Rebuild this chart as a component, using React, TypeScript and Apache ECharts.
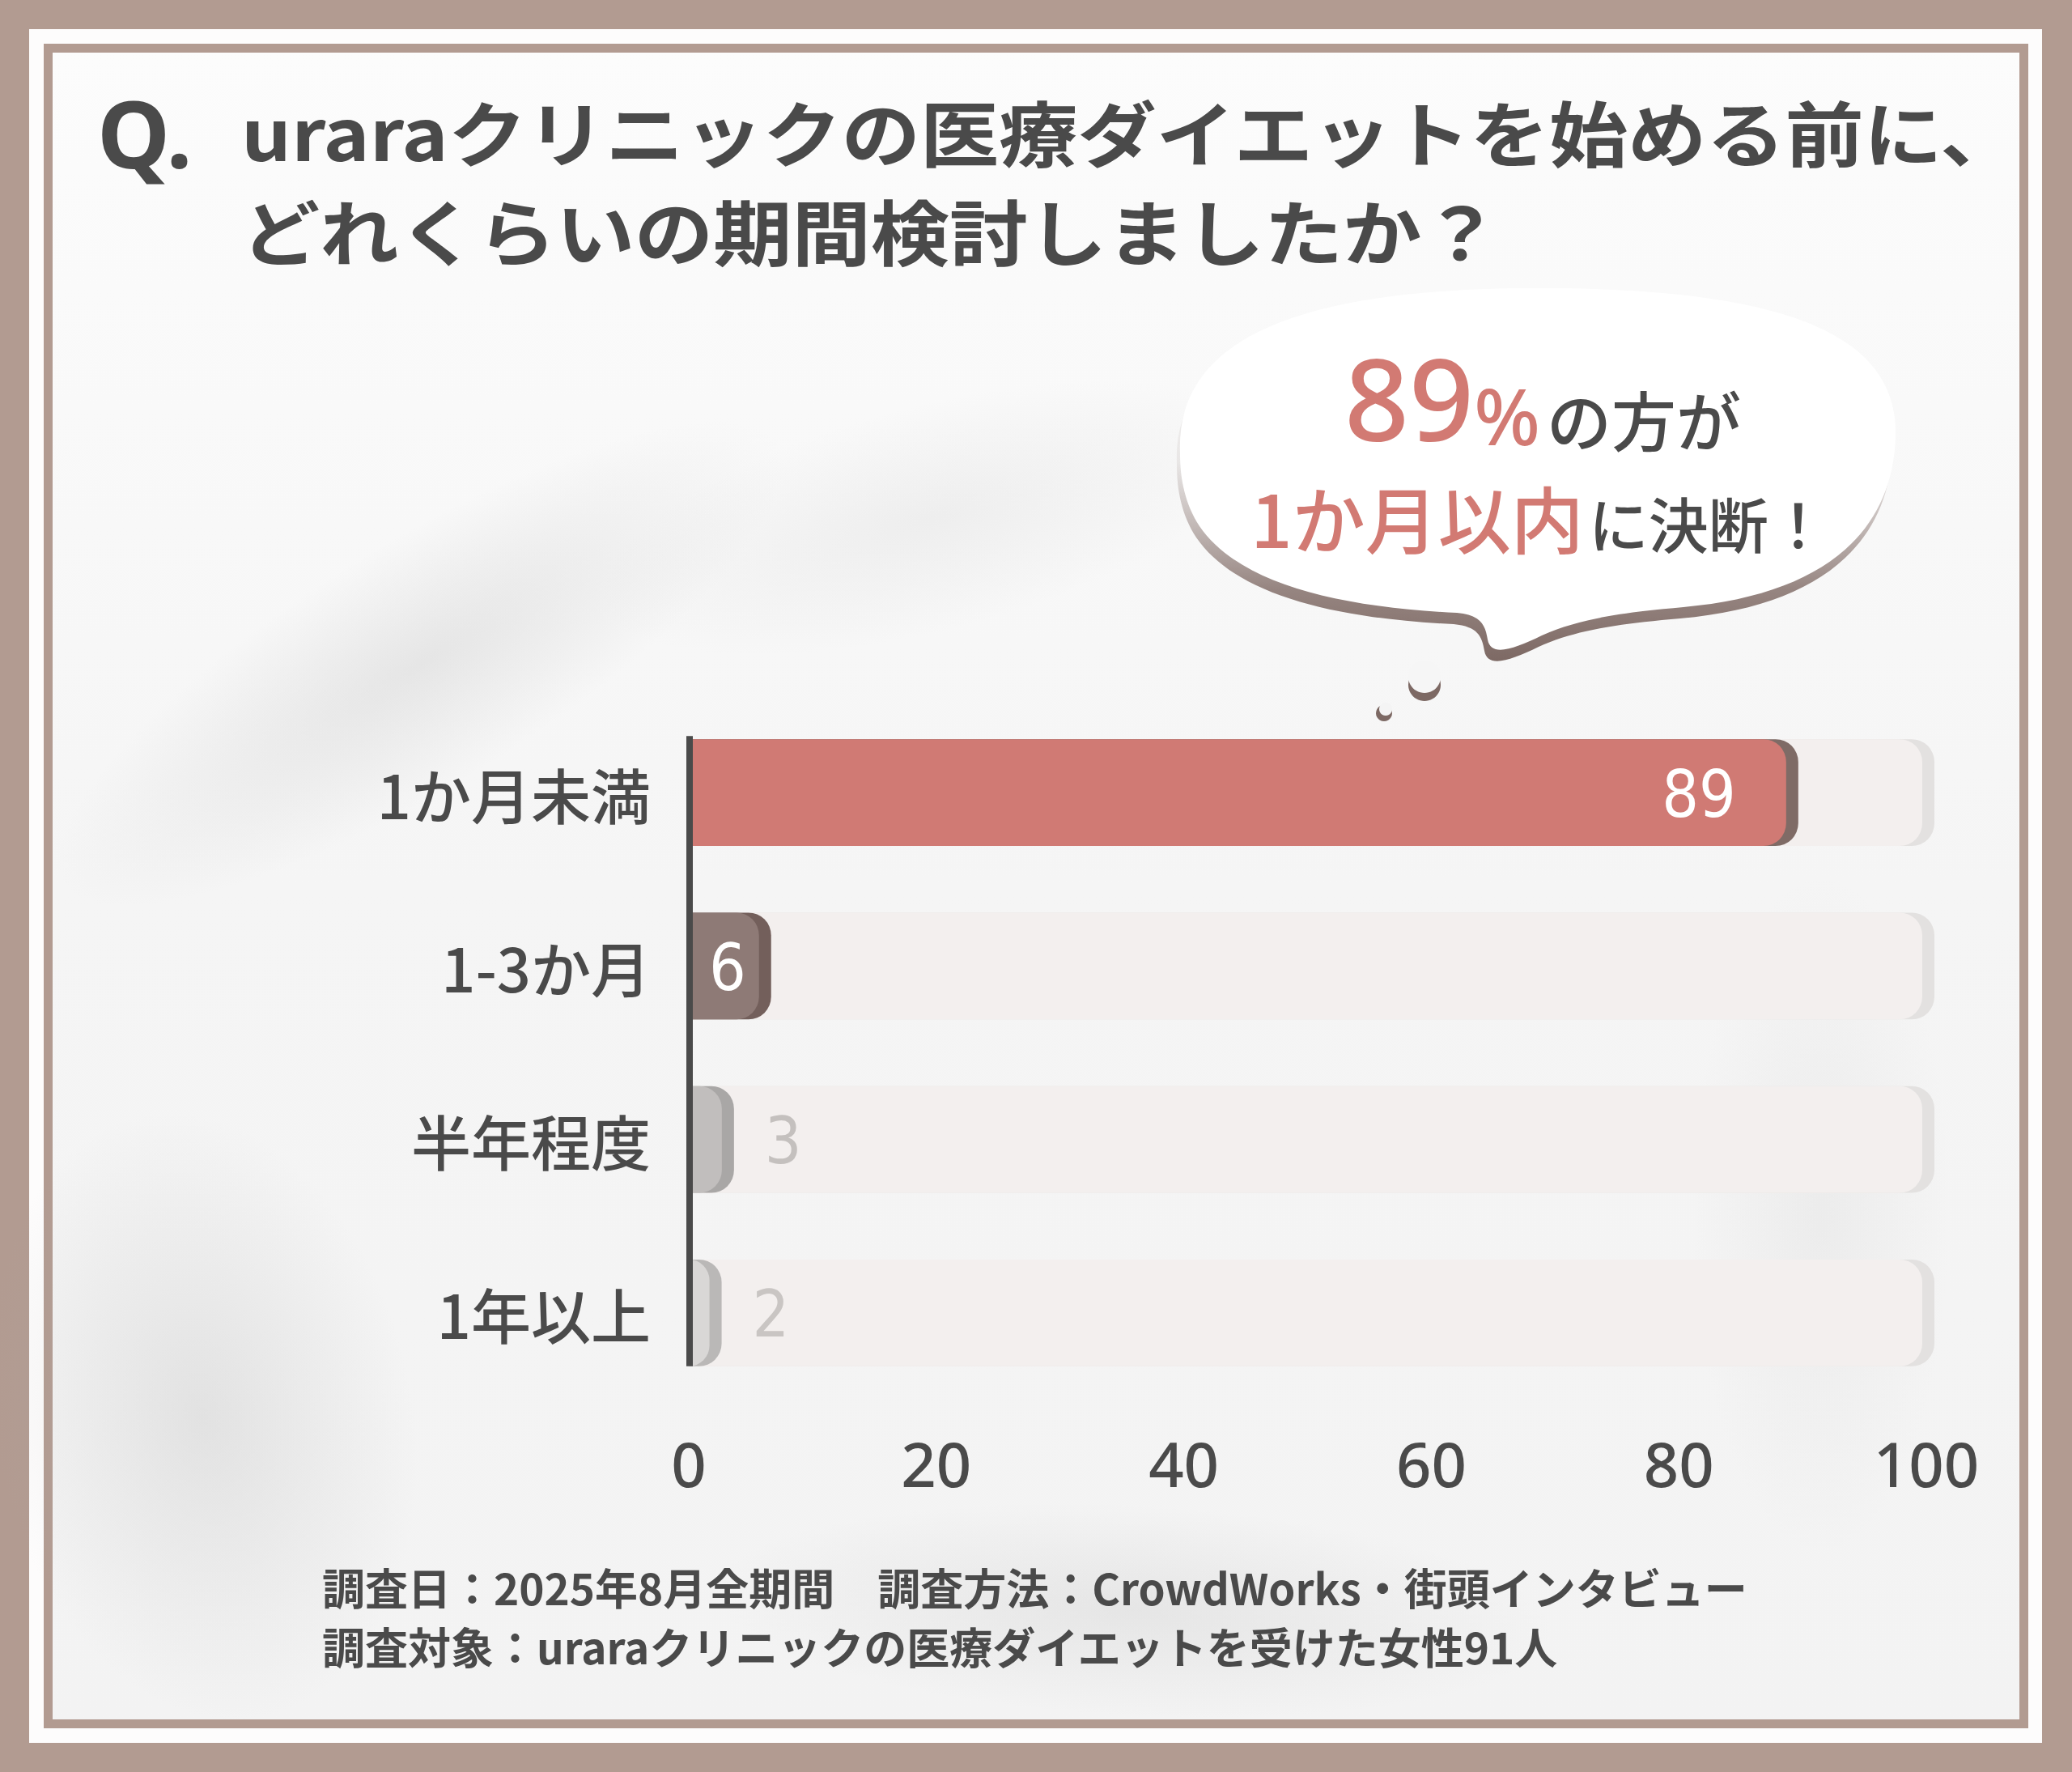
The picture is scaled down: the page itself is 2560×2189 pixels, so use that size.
import React, { useEffect, useRef } from "react";
import * as echarts from "echarts";

// chart values
const categories = ["1か月未満", "1-3か月", "半年程度", "1年以上"];
const shares = [89, 6, 3, 2];
const axisMax = 100;
const axisStep = 20;

// texts
const questionMark = "Q.";
const titleLines = [
  "uraraクリニックの医療ダイエットを始める前に、",
  "どれくらいの期間検討しましたか？",
];
const noteLines = [
  "調査日：2025年8月全期間　調査方法：CrowdWorks・街頭インタビュー",
  "調査対象：uraraクリニックの医療ダイエットを受けた女性91人",
];

// bar styles (per category)
const frontColors = ["#d07a74", "#8e7a76", "#c1bebd", "#d9d7d6"];
const capColors = ["#7f6b66", "#735f5b", "#a9a7a6", "#bab8b7"];
const labelColors = ["#ffffff", "#ffffff", "#c4c0be", "#c9c5c3"];
const labelModes = ["insideRight", "insideLeft", "right", "right"];

const DARK = "#4a4a4a";
const RED = "#d27a73";
const FRAME = "#b29b91";
const CJK = '"Noto Sans CJK JP", "Noto Sans", sans-serif';
const LATIN = '"Noto Sans", "Noto Sans CJK JP", sans-serif';
const NARROW = '"Liberation Sans Narrow", "DejaVu Sans Condensed", "Noto Sans", sans-serif';

const barRatio = 0.616;

const bubblePath =
  "M1458 560 C1452 420 1600 356 1900 356 C2200 356 2346 410 2342 540 C2338 660 2250 735 2080 750 C2000 757 1950 765 1905 785 C1870 802 1842 812 1838 790 C1835 772 1830 760 1800 757 C1650 750 1530 720 1482 650 C1464 622 1458 592 1458 560 Z";

const roundBar = (api: any, idx: number, val: number, front: string, cap: string) => {
  const base = api.coord([0, idx]);
  const end = api.coord([val, idx]);
  const h = api.size([0, 1])[1] * barRatio;
  const top = base[1] - h / 2;
  const capW = Math.max(end[0] - base[0] + 10, 4);
  const frontW = Math.max(end[0] - base[0] - 5, 2);
  return {
    base,
    end,
    frontEnd: base[0] + frontW,
    children: [
      {
        type: "rect",
        shape: { x: base[0], y: top, width: capW, height: h, r: [0, 28, 28, 0] },
        style: { fill: cap },
      },
      {
        type: "rect",
        shape: { x: base[0], y: top, width: frontW, height: h, r: [0, 28, 28, 0] },
        style: { fill: front },
      },
    ],
  };
};

const smudge = (x: number, y: number, rx: number, ry: number, rotation: number, alpha: number) => ({
  type: "ellipse",
  x,
  y,
  rotation,
  z: 0,
  silent: true,
  shape: { cx: 0, cy: 0, rx, ry },
  style: {
    fill: {
      type: "radial",
      x: 0.5,
      y: 0.5,
      r: 0.5,
      colorStops: [
        { offset: 0, color: `rgba(175,175,175,${alpha})` },
        { offset: 1, color: "rgba(175,175,175,0)" },
      ],
    },
  },
});

const App: React.FC = () => {
  const chartRef = useRef<HTMLDivElement>(null);

  useEffect(() => {
    document.body.style.margin = "0";
    if (!chartRef.current) return;

    echarts.graphic.registerShape("bubble", echarts.graphic.extendPath(bubblePath, {}));
    const chart = echarts.init(chartRef.current, null, { renderer: "svg" });

    const option = {
      animation: false,
      grid: {
        left: 851,
        right: 180,
        top: 872,
        bottom: 460,
        outerBoundsMode: "none",
      },
      xAxis: {
        type: "value",
        min: 0,
        max: axisMax,
        interval: axisStep,
        axisLine: { show: false },
        axisTick: { show: false },
        splitLine: { show: false },
        axisLabel: {
          margin: 40,
          fontSize: 76,
          fontWeight: 500,
          fontFamily: LATIN,
          color: DARK,
        },
      },
      yAxis: {
        type: "category",
        inverse: true,
        data: categories,
        axisLine: { show: false },
        axisTick: { show: false },
        axisLabel: {
          margin: 47,
          fontSize: 74,
          fontWeight: 500,
          fontFamily: CJK,
          color: DARK,
        },
      },
      graphic: {
        elements: [
          // frame
          { type: "rect", z: 0, silent: true, shape: { x: 0, y: 0, width: 2560, height: 2189 }, style: { fill: FRAME } },
          { type: "rect", z: 0, silent: true, shape: { x: 36, y: 36, width: 2487, height: 2117 }, style: { fill: "#fdfcfc" } },
          {
            type: "rect",
            z: 0,
            silent: true,
            shape: { x: 59.5, y: 59.5, width: 2441, height: 2070 },
            style: {
              stroke: FRAME,
              lineWidth: 11,
              fill: {
                type: "linear",
                x: 0,
                y: 0,
                x2: 0,
                y2: 1,
                colorStops: [
                  { offset: 0, color: "#fcfcfc" },
                  { offset: 0.5, color: "#f5f5f5" },
                  { offset: 1, color: "#f3f3f3" },
                ],
              },
            },
          },
          smudge(520, 820, 520, 150, 0.55, 0.24),
          smudge(250, 1750, 260, 380, 0.2, 0.26),
          smudge(1400, 1990, 520, 130, -0.05, 0.2),
          smudge(1150, 640, 420, 140, 0.25, 0.14),
          smudge(2250, 1500, 160, 420, 0, 0.12),
          // title
          {
            type: "text",
            x: 120,
            y: 163,
            style: {
              text: questionMark,
              fontSize: 114,
              fontWeight: "bold",
              fontFamily: LATIN,
              fill: DARK,
              align: "left",
              verticalAlign: "middle",
            },
          },
          ...titleLines.map((t, i) => ({
            type: "text",
            x: 298,
            y: 161 + i * 122,
            scaleX: 1.105,
            style: {
              text: t,
              fontSize: 88,
              fontWeight: "bold",
              fontFamily: CJK,
              fill: DARK,
              align: "left",
              verticalAlign: "middle",
            },
          })),
          // speech bubble
          {
            type: "bubble",
            x: -4,
            y: 14,
            silent: true,
            style: {
              fill: {
                type: "linear",
                x: 0,
                y: 0,
                x2: 0,
                y2: 1,
                colorStops: [
                  { offset: 0, color: "rgba(140,120,115,0)" },
                  { offset: 0.45, color: "rgba(140,120,115,0.12)" },
                  { offset: 0.8, color: "rgba(133,113,108,0.85)" },
                  { offset: 1, color: "#7d6964" },
                ],
              },
            },
          },
          { type: "bubble", x: 0, y: 0, silent: true, style: { fill: "#ffffff" } },
          { type: "circle", shape: { cx: 1710, cy: 881, r: 10 }, style: { fill: "#7d6964" } },
          { type: "circle", shape: { cx: 1712, cy: 876, r: 8 }, style: { fill: "#f4f4f4" } },
          { type: "circle", shape: { cx: 1760, cy: 846, r: 20 }, style: { fill: "#7d6964" } },
          { type: "circle", shape: { cx: 1760, cy: 836, r: 20 }, style: { fill: "#f6f6f6" } },
          {
            type: "text",
            x: 1906,
            y: 560,
            style: {
              text: `{num|${shares[0]}}{pct|%}{jp|の方が}`,
              align: "center",
              verticalAlign: "bottom",
              rich: {
                num: { fontSize: 140, fontWeight: 500, fontFamily: LATIN, fill: RED, verticalAlign: "bottom" },
                pct: { fontSize: 96, fontWeight: 500, fontFamily: LATIN, fill: RED, verticalAlign: "bottom" },
                jp: { fontSize: 80, fontWeight: 500, fontFamily: CJK, fill: DARK, verticalAlign: "bottom", padding: [0, 0, 4, 8] },
              },
            },
          },
          {
            type: "text",
            x: 1902,
            y: 683,
            style: {
              text: "{red|1か月以内}{dark|に決断！}",
              align: "center",
              verticalAlign: "bottom",
              rich: {
                red: { fontSize: 90, fontWeight: 500, fontFamily: CJK, fill: RED, verticalAlign: "bottom" },
                dark: { fontSize: 74, fontWeight: 500, fontFamily: CJK, fill: DARK, verticalAlign: "bottom", padding: [0, 0, 2, 6] },
              },
            },
          },
          // footnote
          ...noteLines.map((t, i) => ({
            type: "text",
            x: 398,
            y: 1960 + i * 73,
            style: {
              text: t,
              fontSize: 53,
              fontWeight: "bold",
              fontFamily: CJK,
              fill: DARK,
              align: "left",
              verticalAlign: "middle",
            },
          })),
        ],
      },
      series: [
        {
          type: "custom",
          name: "full",
          z: 1,
          silent: true,
          encode: { x: 1, y: 0 },
          data: categories.map((_, i) => [i, axisMax]),
          renderItem: (params: any, api: any) => {
            const b = roundBar(api, api.value(0), api.value(1), "#f3efee", "#e3e1e0");
            return { type: "group", children: b.children };
          },
        },
        {
          type: "custom",
          name: "share",
          z: 2,
          encode: { x: 1, y: 0 },
          data: shares.map((v, i) => [i, v]),
          renderItem: (params: any, api: any) => {
            const i = api.value(0);
            const v = api.value(1);
            const b = roundBar(api, i, v, frontColors[i], capColors[i]);
            const mode = labelModes[i];
            let x = b.end[0] + 48;
            let align = "left";
            if (mode === "insideRight") {
              x = b.frontEnd - 62;
              align = "right";
            } else if (mode === "insideLeft") {
              x = b.base[0] + 25;
            }
            return {
              type: "group",
              children: [
                ...b.children,
                {
                  type: "text",
                  x,
                  y: b.base[1] + 2,
                  style: {
                    text: String(v),
                    fill: labelColors[i],
                    fontSize: 80,
                    fontFamily: NARROW,
                    align,
                    verticalAlign: "middle",
                  },
                },
              ],
            };
          },
        },
        {
          type: "custom",
          name: "axis",
          z: 3,
          silent: true,
          encode: { x: 0, y: 1 },
          data: [[0, 0]],
          renderItem: (params: any, api: any) => {
            const first = api.coord([0, 0]);
            const last = api.coord([0, categories.length - 1]);
            const h = api.size([0, 1])[1] * barRatio;
            return {
              type: "line",
              shape: { x1: first[0] + 1, y1: first[1] - h / 2 - 4, x2: last[0] + 1, y2: last[1] + h / 2 },
              style: { stroke: DARK, lineWidth: 8 },
            };
          },
        },
      ],
    };

    chart.setOption(option as any);

    return () => {
      chart.dispose();
    };
  }, []);

  return <div ref={chartRef} style={{ width: 2560, height: 2189 }} />;
};

export default App;
